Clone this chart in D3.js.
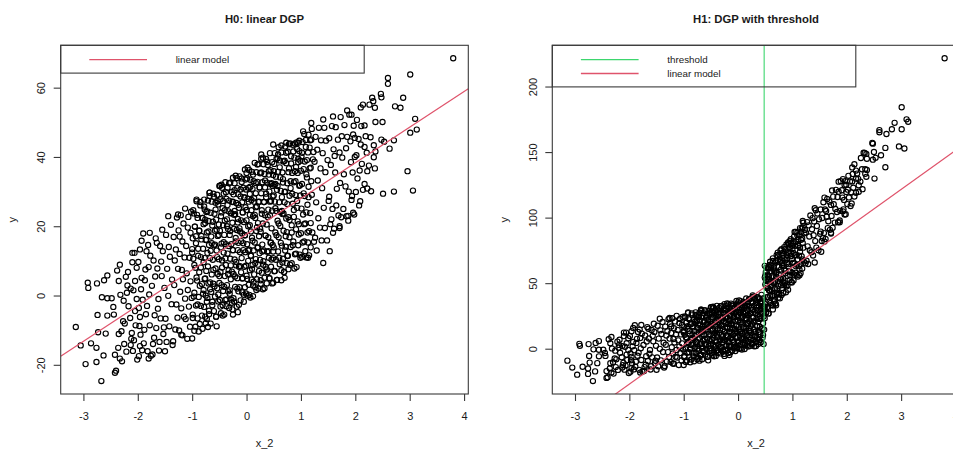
<!DOCTYPE html>
<html><head><meta charset="utf-8">
<script src="https://cdn.jsdelivr.net/npm/d3@7"></script>
<style>
html,body{margin:0;padding:0;background:#fff;}
svg{display:block;font-family:"Liberation Sans",Arial,Helvetica,sans-serif;}
</style></head><body>
<svg id="chart" width="953" height="450"></svg>
<script>
// ---------- data ----------
const titles = ["H0: linear DGP", "H1: DGP with threshold"];
const xLabel = "x_2";
const yLabel = "y";
const xTicks = [-3, -2, -1, 0, 1, 2, 3, 4];
const h0YTicks = [-20, 0, 20, 40, 60];
const h1YTicks = [0, 50, 100, 150, 200];
const h0Fit = [17.7, 10.3];   // intercept, slope of the red "linear model" line
const h1Fit = [32.4, 29.7];
const thresholdX = 0.48;
const h0LegendLabels = ["linear model"];
const h1LegendLabels = ["threshold", "linear model"];

// points with x_2 left of the threshold: identical in both panels
const belowThreshold = [
[-3.14,-9.1],[-3.05,-14.4],[-2.96,-19.8],[-2.92,3.7],[-2.91,2.2],[-2.86,-13.8],[-2.76,-15.1],[-2.75,3.5],[-2.74,-5.6],[-2.73,-10.6],[-2.76,-19.2],[-2.67,-24.7],[-2.63,-17.3],[-2.66,-0.5],[-2.62,4.4],[-2.56,5.8],[-2.59,-11],[-2.56,-5.8],[-2.56,-0.8],[-2.48,-0.8],[-2.45,-3.3],[-2.44,-5.5],[-2.42,-17.1],[-2.42,-22.3],[-2.4,-21.7],[-2.38,7.2],[-2.33,8.9],[-2.35,4.2],[-2.32,0.2],[-2.35,-11.1],[-2.3,-10.3],[-2.36,-15.1],[-2.33,-18.2],[-2.29,-19],[-2.27,-7.4],[-2.24,-8.1],[-2.22,5.4],[-2.17,-3.1],[-2.13,2],[-2.1,9.6],[-2.1,12.3],[-2.06,12.3],[-2.13,-14.3],[-2.11,-10.8],[-2.01,-18.5],[-1.98,-17.5],[-1.96,-14.6],[-1.95,-11.3],[-2.04,-8.6],[-1.93,15.8],[-1.9,17.9],[-1.96,13.3],[-2.02,8],[-1.93,5.1],[-1.91,-1.2],[-1.96,-6.2],[-1.98,-3.6],[-1.78,18.1],[-1.8,-18.2],[-1.5,-16.1],[-1.35,-13.2],[-1.2,-11.3],[-1,-12.4],[-0.71,-9.1],[-0.55,-8.9],[-0.25,-5.5],[-0.16,-4.8],[0.12,-0.2],
[-1.44,22.9],[-1.26,23.4],[-0.92,27.7],[-0.68,28.7],[-0.46,32],[-0.25,34],[0,35.4],[0.27,40.7],
[-2.26,-1.5],[-2.21,-16.2],[-2.19,2.9],[-2.14,-6.5],[-2.07,-12.9],[-2.05,4.2],[-1.99,9.7],[-1.97,-8.8],[-1.94,1.8],[-1.92,-15.8],[-1.88,-9.9],[-1.86,7.5],[-1.83,-3],[-1.81,14.6],[-1.73,-17],[-1.7,-12.2],[-1.68,5.5],[-1.65,15.2],[-1.63,-3.8],[-1.6,-13.4],[-1.57,9.8],[-1.55,19],[-1.52,-9.2],[-2.05,-4.5],[-2.08,1.5],[-2.12,-12.5],[-2.2,0.8],[-2.25,-14],[-2.02,-1],[-2.18,6.8],[-2.09,-16],
[-1.89,-13.8],[-1.87,4.4],[-1.85,-5.4],[-1.84,12.8],[-1.82,-16.1],[-1.8,8.2],[-1.79,0.3],[-1.78,-8.6],[-1.77,11.5],[-1.76,-17.4],
[-1.74,2.8],[-1.72,-14],[-1.71,10.1],[-1.69,-5.7],[-1.67,16.5],[-1.66,-9.4],[-1.64,7.8],[-1.62,-1],[-1.61,-15.9],[-1.59,14.3],[-1.58,-6.6],[-1.56,5.6],[-1.54,12.8],[-1.53,-11.1],[-1.51,2.2],
[-1.49,-6.7],[-1.48,17.5],[-1.47,-13.4],[-1.46,7.7],[-1.44,-0.1],[-1.43,14],[-1.42,-8.9],[-1.41,11.2],[-1.39,20.4],[-1.38,-2.5],[-1.37,4.6],[-1.36,-14.3],[-1.34,16.9],[-1.33,3],[-1.32,10.1],[-1.31,-9.8],[-1.3,13.3],[-1.29,-2.6],[-1.28,22.5],[-1.27,-6.4],[-1.26,7.7],[-1.25,18.8],
[-1.24,-10.1],[-1.23,12],[-1.23,17],[-1.22,1.1],[-1.21,23.2],[-1.2,-3.7],[-1.19,7.4],[-1.18,-11.5],[-1.18,15.6],[-1.17,4.7],[-1.16,20.8],[-1.15,-6.1],[-1.14,11],[-1.13,-0.9],[-1.13,25.1],[-1.12,-6.8],[-1.11,14.3],[-1.1,6.4],[-1.09,-12.5],[-1.08,19.6],[-1.08,1.6],[-1.07,22.7],[-1.06,-3.2],[-1.05,10.9],[-1.04,-9],[-1.03,18.1],[-1.03,4.1],[-1.02,24.2],[-1.01,-0.7],[-1,13.4],
[-0.99,16.5],[-0.99,-6.5],[-0.98,10.6],[-0.97,23.7],[-0.96,0.8],[-0.96,-10.2],[-0.95,19.9],[-0.94,8],[-0.93,-2.9],[-0.93,15.1],[-0.92,27.2],[-0.91,4.3],[-0.9,-6.6],[-0.9,22.4],[-0.89,13.5],[-0.88,-0.4],[-0.87,18.7],[-0.87,6.7],[-0.86,-8.2],[-0.85,26],[-0.84,11.1],[-0.84,-3],[-0.83,17.2],[-0.82,3.3],[-0.81,22.4],[-0.81,-9.6],[-0.8,13.5],[-0.79,20.6],[-0.79,1.6],[-0.78,27.7],[-0.78,-3.3],[-0.77,10.8],[-0.77,24.8],[-0.76,4.9],[-0.76,-6.1],[-0.75,16],[-0.75,0],[-0.76,21.9],
[-0.74,7.1],[-0.74,24.1],[-0.73,-6.8],[-0.73,18.2],[-0.72,12.3],[-0.72,-0.7],[-0.71,27.4],[-0.7,3.5],[-0.7,21.5],[-0.69,-4.4],[-0.69,14.6],[-0.68,29.7],[-0.67,1.8],[-0.67,10.8],[-0.66,23.9],[-0.66,-8.1],[-0.65,17],[-0.64,6.1],[-0.64,27.1],[-0.63,-1.8],[-0.63,20.2],[-0.62,10.3],[-0.61,29.4],[-0.61,3.4],[-0.6,-4.5],[-0.6,14.5],[-0.59,23.6],[-0.58,-0.3],[-0.58,18.7],[-0.57,7.8],[-0.57,26.8],[-0.56,-6.1],[-0.56,21.9],[-0.55,13],[-0.54,2.1],[-0.54,29.1],[-0.53,6.2],[-0.53,17.2],[-0.52,26.3],[-0.52,-1.7],[-0.51,20.5],[-0.51,10.5],[-0.5,31.6],[-0.5,3.6],
[-0.49,-1.3],[-0.49,18.7],[-0.48,27.8],[-0.48,6.8],[-0.47,-5.1],[-0.47,22.9],[-0.46,15],[-0.46,3],[-0.45,31.1],[-0.45,10.1],[-0.44,-2.8],[-0.44,25.2],[-0.43,20.3],[-0.43,1.3],[-0.42,29.4],[-0.42,12.4],[-0.41,-5.5],[-0.41,17.5],[-0.4,24.6],[-0.4,5.6],[-0.39,-1.3],[-0.39,32.7],[-0.38,14.8],[-0.38,8.8],[-0.37,27.9],[-0.37,-3.1],[-0.36,22],[-0.36,3],[-0.35,12.1],[-0.35,31.1],[-0.34,1.2],[-0.34,19.2],[-0.33,24.3],[-0.33,7.3],[-0.32,-3.6],[-0.32,27.4],[-0.31,17.5],[-0.31,0.5],[-0.3,32.6],[-0.3,10.6],[-0.29,23.7],[-0.29,4.7],[-0.28,-1.2],[-0.28,14.8],[-0.27,29.9],[-0.27,6.9],[-0.26,21],[-0.26,-4],[-0.25,27.1],[-0.25,13.1],
[-0.24,6.2],[-0.24,29.2],[-0.23,19.3],[-0.23,-1.7],[-0.22,32.4],[-0.22,10.4],[-0.22,24.4],[-0.21,2.5],[-0.21,23.5],[-0.2,15.6],[-0.2,34.6],[-0.19,8.7],[-0.19,26.7],[-0.18,-3.2],[-0.18,18.9],[-0.17,31],[-0.17,5],[-0.16,22.1],[-0.16,13.1],[-0.15,1.2],[-0.15,29.2],[-0.15,15.2],[-0.14,25.3],[-0.14,8.3],[-0.13,34.4],[-0.13,2.4],[-0.12,12.5],[-0.12,18.5],[-0.11,28.6],[-0.11,-1.4],[-0.1,21.7],[-0.1,6.7],[-0.09,32.8],[-0.09,10.8],[-0.08,0.9],[-0.08,26.9],[-0.08,17.9],[-0.07,24],[-0.07,5],[-0.06,31.1],[-0.06,15.1],[-0.05,-1.8],[-0.05,21.2],[-0.04,28.3],[-0.04,8.3],[-0.03,36.4],[-0.03,2.4],[-0.03,17.4],[-0.02,12.5],[-0.02,25.5],[-0.01,30.6],[-0.01,0.6],
[0,5.7],[0,24.7],[0.01,33.8],[0.01,14.8],[0.02,-0.1],[0.02,27.9],[0.03,20],[0.03,10],[0.04,31.1],[0.04,3.1],[0.05,13.2],[0.05,36.2],[0.06,23.3],[0.06,7.3],[0.06,29.3],[0.07,-0.6],[0.07,33.4],[0.08,18.5],[0.08,11.5],[0.09,27.6],[0.09,4.6],[0.1,35.7],[0.1,16.7],[0.11,8.8],[0.11,30.8],[0.12,22.9],[0.12,2.9],[0.13,13],[0.13,33],[0.14,27.1],[0.14,6.1],[0.15,38.3],[0.15,15.3],[0.16,2.4],[0.16,22.4],[0.17,29.5],[0.17,10.5],[0.17,25.5],[0.18,18.6],[0.18,35.6],[0.19,4.7],[0.19,25.7],[0.2,32.8],[0.2,13.8],[0.21,8.9],[0.21,20.9],[0.22,38],[0.22,2],[0.23,27.1],[0.23,17.1],[0.24,12.2],[0.24,31.2],
[0.25,35.3],[0.25,10.3],[0.26,18.4],[0.26,3.4],[0.27,29.5],[0.27,39.5],[0.28,6.6],[0.28,24.6],[0.29,32.7],[0.29,14.7],[0.3,1.8],[0.3,20.8],[0.31,37.9],[0.31,8.9],[0.32,27],[0.32,13],[0.33,5.1],[0.33,35.1],[0.34,23.2],[0.34,31.2],[0.35,17.3],[0.35,8.3],[0.36,39.4],[0.36,28.4],[0.37,3.5],[0.37,20.5],[0.38,32.6],[0.38,12.6],[0.39,37.7],[0.39,6.7],[0.4,24.8],[0.4,16.8],[0.41,34.9],[0.41,10.9],[0.42,5],[0.42,30],[0.43,23.1],[0.43,41.1],[0.44,15.2],[0.44,36.2],[0.45,8.3],[0.45,27.3],[0.46,32.4],[0.46,19.4],[0.47,3.5],[0.47,38.5],[0.48,28.6],[0.48,14.6],
[-1,12.4],[-0.99,-5.5],[-0.98,24.6],[-0.97,-0.3],[-0.96,8.8],[-0.95,19.9],[-0.94,-9],[-0.93,17.1],[-0.92,5.2],[-0.91,23.3],[-0.9,-2.6],[-0.89,11.5],[-0.88,-10.4],[-0.87,18.7],[-0.86,2.8],[-0.85,27],[-0.84,8.1],[-0.83,16.2],[-0.82,-5.8],[-0.81,22.4],[-0.8,0.5],[-0.79,9.6],[-0.78,25.7],[-0.77,4.8],[-0.76,20.9],[-0.75,-8],[-0.74,16.1],[-0.73,-1.8],[-0.72,24.3],[-0.71,8.4],[-0.7,18.5],[-0.69,-5.4],[-0.68,29.7],[-0.67,3.8],[-0.66,12.9],[-0.65,1],[-0.64,15.1],[-0.63,-2.8],[-0.62,21.3],[-0.61,7.4],[-0.6,28.5],[-0.59,2.6],[-0.58,14.7],[-0.57,24.8],[-0.56,-6.1],[-0.55,19],[-0.54,11.1],[-0.53,27.2],[-0.52,0.3],[-0.51,17.5],
[-0.5,5.6],[-0.49,31.7],[-0.48,-3.2],[-0.47,13.9],[-0.46,24],[-0.45,8.1],[-0.44,-5.8],[-0.43,27.3],[-0.42,15.4],[-0.41,2.5],[-0.4,21.6],[-0.39,10.7],[-0.38,29.8],[-0.37,-1.1],[-0.36,20],[-0.35,26.1],[-0.34,6.2],[-0.33,14.3],[-0.32,32.4],[-0.31,1.5],[-0.3,18.6],[-0.29,8.7],[-0.28,23.8],[-0.27,-2.1],[-0.26,27],[-0.25,13.1],[-0.24,-0.8],[-0.23,23.3],[-0.22,30.4],[-0.21,5.5],[-0.2,16.6],[-0.19,9.7],[-0.18,33.9],[-0.17,2],[-0.16,21.1],[-0.15,26.2],[-0.14,-2.7],[-0.13,19.4],[-0.12,8.5],[-0.11,30.6],[-0.1,15.7],[-0.09,33.8],[-0.08,4.9],[-0.07,24],[-0.06,13.1],[-0.05,0.2],[-0.04,28.3],[-0.03,17.4],[-0.02,33.5],[-0.01,8.6],
[0,21.7],[0.01,4.8],[0.02,36.9],[0.03,13],[0.04,27.1],[0.05,0.2],[0.06,20.3],[0.07,31.4],[0.08,11.5],[0.09,24.6],[0.1,7.7],[0.11,15.8],[0.12,34.9],[0.13,4],[0.14,28.1],[0.15,23.3],[0.16,9.4],[0.17,32.5],[0.18,1.6],[0.19,19.7],[0.2,37.8],[0.21,13.9],[0.22,27],[0.23,7.1],[0.24,31.2],[0.25,19.3],[0.26,4.4],[0.27,35.5],[0.28,23.6],[0.29,12.7],[0.3,39.8],[0.31,9.9],[0.32,27],[0.33,2.1],[0.34,33.2],[0.35,17.3],[0.36,29.4],[0.37,7.5],[0.38,38.6],[0.39,22.7],[0.4,12.8],[0.41,35.9],[0.42,5],[0.43,27.1],[0.44,32.2],[0.45,15.3],[0.46,10.4],[0.47,24.5],[0.48,31.6]
];

// points right of the threshold, H0 panel
const h0AboveThreshold = [
[0.49,3.7],[0.64,4.4],[0.7,5.1],[1.13,10.9],[1.41,9.4],[1.53,12.8],[1.59,18.1],[1.71,20],[1.84,22.9],[1.96,23.9],[0.49,43.6],[0.73,44.1],[0.95,44.1],[1.19,49.8],[1.41,50.8],[1.59,51.7],[1.93,52.2],[2.14,55.1],
[3.8,68.5],[3.01,63.8],[2.6,62.8],[2.6,61.1],[2.47,58.2],[2.48,57.2],[2.31,57.1],[2.33,56.1],[2.1,54.3],[2.26,55.1],[2.36,54.2],[2.88,57.1],[2.73,54.6],[2.83,54.2],[1.85,53.4],[3.1,51],[3.13,47.9],[3.01,47],[2.71,44.8],[2.63,42.4],[2.5,50.1],[2.37,50.1],[2.17,49.1],[2.11,48.9],[2.28,45.7],[2.48,45],[2.53,44.4],[2.34,43.4],[2.37,41.6],[2.17,42.9],[2.34,39.9],[2.1,43.6],[1.99,45.5],[1.96,46.5],[2.96,35.9],[3.06,30.3],[2.71,30],[2.51,29.4],[2.29,30.1],[2.22,30.9],[2.17,32.2],[2.08,36.1],[2.22,35.9],[2.36,36.7],[2.09,27.2],[1.93,27.6],[2.01,29.9],[1.98,23.4],[1.87,21.6],[1.71,19.5],[1.74,22.6],
[2.02,40.5],[2.04,33.8],[2.06,45.2],[2.12,38],[2.14,30.5],[2.19,46],[2.21,41.2],[2.25,37.5],[2.03,50.7],[2.07,26],
[1.52,28.5],[1.56,22],[1.62,40.3],[1.65,26],[1.72,32.5],[1.75,46],[1.79,35],[1.83,42.5],[1.88,30],[1.91,44.5],[1.95,35.5],[1.99,40],
[0.49,10.8],[0.49,34.8],
[0.5,13.9],[0.5,35.9],[0.51,7],[0.52,27.1],[0.52,41.1],[0.53,18.2],[0.53,32.2],[0.54,10.3],[0.55,24.4],[0.55,39.4],[0.56,4.5],[0.56,30.5],[0.57,21.6],[0.58,35.7],[0.58,12.7],[0.59,42.8],[0.59,16.8],[0.6,26.9],[0.61,39],[0.61,9],[0.62,34.1],[0.62,20.1],[0.63,30.2],[0.64,7.3],[0.64,41.3],[0.65,24.4],[0.65,14.4],[0.66,35.5],[0.67,10.6],[0.67,32.6],[0.68,38.7],[0.68,18.7],[0.69,6.8],[0.7,29.9],[0.7,26.9],[0.71,13],[0.71,43],[0.72,17.1],[0.73,38.2],[0.73,22.2],[0.74,9.3],[0.51,32],[0.57,39.6],[0.66,23.5],
[0.75,32.4],[0.75,11.4],[0.76,41.5],[0.77,22.6],[0.77,7.6],[0.78,36.7],[0.79,28.8],[0.79,16.8],[0.8,43.9],[0.81,14],[0.81,31],[0.82,40.2],[0.83,20.3],[0.83,9.3],[0.84,35.4],[0.85,26.5],[0.85,43.5],[0.86,15.6],[0.87,32.7],[0.87,22.7],[0.88,39.8],[0.89,11.9],[0.89,43.9],[0.9,29],[0.91,19.1],[0.91,37.1],[0.92,8.2],[0.93,42.3],[0.93,25.3],[0.94,35.4],[0.95,14.5],[0.95,39.5],[0.96,20.6],[0.97,31.7],[0.97,44.7],[0.98,11.8],[0.99,28.9],[0.99,38.9],
[1,18],[1.01,40.1],[1.02,32.2],[1.02,11.2],[1.03,44.3],[1.04,23.4],[1.05,36.5],[1.06,15.6],[1.06,46.6],[1.07,28.7],[1.08,20.8],[1.09,42.9],[1.1,11],[1.1,35],[1.11,39.1],[1.12,26.2],[1.13,15.3],[1.14,46.4],[1.14,31.4],[1.15,18.6],[1.16,42.7],[1.17,23.8],[1.18,36.9],[1.18,13.9],[1.19,45],[1.2,29.1],[1.21,18.2],[1.22,39.3],[1.23,41.4],[1.24,15.5],
[1.25,38.6],[1.26,16.7],[1.27,45.8],[1.28,26.9],[1.29,13],[1.3,42.1],[1.31,33.2],[1.32,22.3],[1.33,48.4],[1.35,19.6],[1.36,36.7],[1.37,44.8],[1.38,15.9],[1.39,31],[1.4,41.1],[1.42,25.3],[1.43,48.4],[1.44,19.5],[1.45,35.6],[1.46,44.7],[1.48,15.9],[1.49,39.1],
[1.51,27.3],[1.52,45.4],[1.54,20.6],[1.55,37.7],[1.57,48.9],[1.58,25],[1.6,42.2],[1.61,19.3],[1.63,35.5],[1.64,48.6],[1.66,30.8],[1.68,45],[1.69,23.1],[1.71,41.3],[1.73,51.5],
[1.76,39.8],[1.78,25],[1.8,49.2],[1.82,31.5],[1.85,45.8],[1.87,23],[1.89,52.2],[1.92,38.5],[1.94,28.7],[1.97,49],
[0.49,12.7],[0.5,28.9],[0.51,38],[0.52,7.1],[0.53,25.2],[0.54,34.3],[0.55,17.4],[0.56,4.5],[0.57,31.6],[0.58,40.7],[0.59,20.8],[0.6,10.9],[0.61,37],[0.62,24.1],[0.63,15.2],[0.64,43.3],[0.65,28.4],[0.66,9.5],[0.67,33.6],[0.68,23.7],[0.69,6.8],[0.7,38.9],[0.71,30],[0.72,14.1],[0.73,41.2],[0.74,18.3],[0.75,26.4],[0.76,11.5],[0.77,35.6],[0.78,43.7],[0.79,21.8],[0.8,8.9],[0.81,33],[0.82,38.1],[0.83,18.2],[0.84,29.4],[0.85,14.5],[0.86,41.6],[0.87,24.7],[0.88,7.8],[0.89,35.9],[0.9,33],[0.91,12.1],[0.92,44.2],[0.93,27.3],[0.94,21.4],[0.95,38.5],[0.96,17.6],[0.97,41.7],[0.98,31.8],[0.99,10.9],[1,36],[1.01,25.1],[1.02,41.2],[1.03,15.3],[1.04,47.4],[1.05,29.5],[1.06,20.6],[1.07,38.7],[1.08,12.8],[1.09,44.9],[1.1,24],[1.11,34.1],[1.12,18.2],[1.13,41.3],[1.14,28.4],[1.15,11.6],[1.16,36.7],[1.17,44.8],[1.18,20.9],[1.19,33],[1.2,48.1]
];

// points right of the threshold, H1 panel (shifted up past the threshold)
const h1AboveThreshold = [
[0.49,23.3],[0.64,30],[0.7,33.1],[1.13,56.1],[1.41,65.8],[1.53,74],[1.59,81.7],[1.71,88.4],[1.84,96.5],[1.96,102.3],[0.49,63.2],[0.73,73.3],[0.95,82.1],[1.19,97.4],[1.41,107.2],[1.59,115.3],[1.93,129.4],[2.14,140.7],
[3.8,221.6],[3.01,184.2],[2.6,166.8],[2.6,165.1],[2.47,157],[2.48,156.4],[2.31,149.5],[2.33,149.3],[2.1,138.3],[2.26,145.5],[2.36,148.6],[2.88,172.3],[2.73,163.8],[2.83,167.4],[1.85,127.4],[3.1,175],[3.13,173.1],[3.01,167.4],[2.71,153.2],[2.63,147.6],[2.5,150.1],[2.37,144.9],[2.17,135.9],[2.11,133.3],[2.28,136.9],[2.48,144.2],[2.53,145.6],[2.34,137],[2.37,136.4],[2.17,129.7],[2.34,133.5],[2.1,127.6],[1.99,125.1],[1.96,124.9],[2.96,154.3],[3.06,152.7],[2.71,138.4],[2.51,129.8],[2.29,121.7],[2.22,119.7],[2.17,119],[2.08,119.3],[2.22,124.7],[2.36,131.1],[2.09,110.8],[1.93,104.8],[2.01,110.3],[1.98,102.6],[1.87,96.4],[1.71,87.9],[1.74,92.2],
[2.02,121.3],[2.04,115.4],[2.06,127.6],[2.12,122.8],[2.14,116.1],[2.19,133.6],[2.21,129.6],[2.25,127.5],[2.03,131.9],[2.07,108.8],
[1.52,89.3],[1.56,84.4],[1.62,105.1],[1.65,92],[1.72,101.3],[1.75,116],[1.79,106.6],[1.83,115.7],[1.88,105.2],[1.91,120.9],[1.95,113.5],[1.99,119.6],
[0.49,30.4],[0.49,54.4],
[0.5,33.9],[0.5,55.9],[0.51,27.4],[0.52,47.9],[0.52,61.9],[0.53,39.4],[0.53,53.4],[0.54,31.9],[0.55,46.4],[0.55,61.4],[0.56,26.9],[0.56,52.9],[0.57,44.4],[0.58,58.9],[0.58,35.9],[0.59,66.4],[0.59,40.4],[0.6,50.9],[0.61,63.4],[0.61,33.4],[0.62,58.9],[0.62,44.9],[0.63,55.4],[0.64,32.9],[0.64,66.9],[0.65,50.4],[0.65,40.4],[0.66,61.9],[0.67,37.4],[0.67,59.4],[0.68,65.9],[0.68,45.9],[0.69,34.4],[0.7,57.9],[0.7,54.9],[0.71,41.4],[0.71,71.4],[0.72,45.9],[0.73,67.4],[0.73,51.4],[0.74,38.9],[0.51,52.4],[0.57,62.4],[0.66,49.9],
[0.75,62.4],[0.75,41.4],[0.76,71.9],[0.77,53.4],[0.77,38.4],[0.78,67.9],[0.79,60.4],[0.79,48.4],[0.8,75.9],[0.81,46.4],[0.81,63.4],[0.82,73],[0.83,53.5],[0.83,42.5],[0.84,69],[0.85,60.5],[0.85,77.5],[0.86,50],[0.87,67.5],[0.87,57.5],[0.88,75],[0.89,47.5],[0.89,79.5],[0.9,65],[0.91,55.5],[0.91,73.5],[0.92,45],[0.93,79.5],[0.93,62.5],[0.94,73],[0.95,52.5],[0.95,77.5],[0.96,59],[0.97,70.5],[0.97,83.5],[0.98,51],[0.99,68.5],[0.99,78.5],
[1,58],[1.01,80.5],[1.02,73],[1.02,52],[1.03,85.5],[1.04,65],[1.05,78.5],[1.06,58],[1.06,89],[1.07,71.5],[1.08,64],[1.09,86.5],[1.1,55],[1.1,79],[1.11,83.5],[1.12,71],[1.13,60.5],[1.14,92],[1.14,77],[1.15,64.6],[1.16,89.1],[1.17,70.6],[1.18,84.1],[1.18,61.1],[1.19,92.6],[1.2,77.1],[1.21,66.6],[1.22,88.1],[1.23,90.6],[1.24,65.1],
[1.25,88.6],[1.26,67.1],[1.27,96.6],[1.28,78.1],[1.29,64.6],[1.3,94.1],[1.31,85.6],[1.32,75.1],[1.33,101.6],[1.35,73.6],[1.36,91.1],[1.37,99.6],[1.38,71.1],[1.39,86.6],[1.4,97.1],[1.42,82.1],[1.43,105.6],[1.44,77.1],[1.45,93.6],[1.46,103.1],[1.48,75.1],[1.49,98.7],
[1.51,87.7],[1.52,106.2],[1.54,82.2],[1.55,99.7],[1.57,111.7],[1.58,88.2],[1.6,106.2],[1.61,83.7],[1.63,100.7],[1.64,114.2],[1.66,97.2],[1.68,112.2],[1.69,90.7],[1.71,109.7],[1.73,120.7],
[1.76,110.2],[1.78,96.2],[1.8,121.2],[1.82,104.3],[1.85,119.8],[1.87,97.8],[1.89,127.8],[1.92,115.3],[1.94,106.3],[1.97,127.8],
[0.49,32.3],[0.5,48.9],[0.51,58.4],[0.52,27.9],[0.53,46.4],[0.54,55.9],[0.55,39.4],[0.56,26.9],[0.57,54.4],[0.58,63.9],[0.59,44.4],[0.6,34.9],[0.61,61.4],[0.62,48.9],[0.63,40.4],[0.64,68.9],[0.65,54.4],[0.66,35.9],[0.67,60.4],[0.68,50.9],[0.69,34.4],[0.7,66.9],[0.71,58.4],[0.72,42.9],[0.73,70.4],[0.74,47.9],[0.75,56.4],[0.76,41.9],[0.77,66.4],[0.78,74.9],[0.79,53.4],[0.8,40.9],[0.81,65.4],[0.82,70.9],[0.83,51.4],[0.84,63],[0.85,48.5],[0.86,76],[0.87,59.5],[0.88,43],[0.89,71.5],[0.9,69],[0.91,48.5],[0.92,81],[0.93,64.5],[0.94,59],[0.95,76.5],[0.96,56],[0.97,80.5],[0.98,71],[0.99,50.5],[1,76],[1.01,65.5],[1.02,82],[1.03,56.5],[1.04,89],[1.05,71.5],[1.06,63],[1.07,81.5],[1.08,56],[1.09,88.5],[1.1,68],[1.11,78.5],[1.12,63],[1.13,86.5],[1.14,74],[1.15,57.6],[1.16,83.1],[1.17,91.6],[1.18,68.1],[1.19,80.6],[1.2,96.1]
];

const h0Points = belowThreshold.concat(h0AboveThreshold);
const h1Points = belowThreshold.concat(h1AboveThreshold);

// ---------- drawing ----------
const RED = "#DF536B", GREEN = "#3DD66E", INK = "#1a1a1a", BOXC = "#3a3a3a";
const plotTop = 45.3, plotBottom = 394;
const svg = d3.select("#chart");

function pad4(ext) { const r = ext[1] - ext[0]; return [ext[0] - 0.04 * r, ext[1] + 0.04 * r]; }

function drawPanel(cfg, idx) {
  const {left, right, points, yTicks, fit, title, legend, threshold} = cfg;
  const x = d3.scaleLinear().domain(pad4(d3.extent(points, d => d[0]))).range([left, right]);
  const y = d3.scaleLinear().domain(pad4(d3.extent(points, d => d[1]))).range([plotBottom, plotTop]);
  const g = svg.append("g");

  const clipId = "clip" + idx;
  g.append("clipPath").attr("id", clipId).append("rect")
    .attr("x", left).attr("y", plotTop).attr("width", right - left).attr("height", plotBottom - plotTop);

  const plot = g.append("g").attr("clip-path", `url(#${clipId})`);
  plot.selectAll("circle").data(points).join("circle")
    .attr("cx", d => x(d[0])).attr("cy", d => y(d[1])).attr("r", 2.6)
    .attr("fill", "none").attr("stroke", "#000").attr("stroke-width", 1.15);

  const [xa, xb] = x.domain();
  if (threshold !== undefined) {
    plot.append("line").attr("x1", x(threshold)).attr("x2", x(threshold))
      .attr("y1", plotTop).attr("y2", plotBottom).attr("stroke", GREEN).attr("stroke-width", 1.1);
  }
  plot.append("line")
    .attr("x1", x(xa)).attr("y1", y(fit[0] + fit[1] * xa))
    .attr("x2", x(xb)).attr("y2", y(fit[0] + fit[1] * xb))
    .attr("stroke", RED).attr("stroke-width", 1.2);

  // box
  g.append("rect").attr("x", left).attr("y", plotTop).attr("width", right - left).attr("height", plotBottom - plotTop)
    .attr("fill", "none").attr("stroke", BOXC).attr("stroke-width", 1.1);

  // x axis
  const gx = g.append("g").attr("transform", `translate(0,${plotBottom})`)
    .call(d3.axisBottom(x).tickValues(xTicks).tickSize(7).tickPadding(11).tickFormat(d => String(d)));
  gx.select(".domain").remove();
  gx.attr("font-family", null).attr("font-size", 11);
  gx.selectAll(".tick line").attr("stroke", BOXC).attr("stroke-width", 1.1);
  gx.selectAll(".tick text").attr("fill", INK);

  // y axis
  const gy = g.append("g").attr("transform", `translate(${left},0)`)
    .call(d3.axisLeft(y).tickValues(yTicks).tickSize(7).tickFormat(d => String(d)));
  gy.select(".domain").remove();
  gy.attr("font-family", null).attr("font-size", 11);
  gy.selectAll(".tick line").attr("stroke", BOXC).attr("stroke-width", 1.1);
  gy.selectAll(".tick text").attr("fill", INK)
    .attr("transform", "rotate(-90)").attr("x", 0).attr("y", -15.6).attr("dy", 0)
    .attr("text-anchor", "middle");

  // titles and labels
  const cx = (left + right) / 2;
  g.append("text").attr("x", cx).attr("y", 22.5).attr("text-anchor", "middle")
    .attr("font-weight", "bold").attr("font-size", 11.3).attr("fill", INK).text(title);
  g.append("text").attr("x", cx).attr("y", 446.5).attr("text-anchor", "middle")
    .attr("font-size", 11).attr("fill", INK).text(xLabel);
  g.append("text").attr("transform", `translate(${left - 44.4},${(plotTop + plotBottom) / 2}) rotate(-90)`)
    .attr("text-anchor", "middle").attr("font-size", 11).attr("fill", INK).text(yLabel);

  // legend
  const lgW = 303.5, rowH = 13.8;
  const lgH = 14 + rowH * legend.length;
  const lg = g.append("g");
  lg.append("rect").attr("x", left).attr("y", plotTop).attr("width", lgW).attr("height", lgH)
    .attr("fill", "none").attr("stroke", BOXC).attr("stroke-width", 1.1);
  legend.forEach((item, i) => {
    const yy = plotTop + 14.4 + i * rowH;
    lg.append("line").attr("x1", left + 28.6).attr("x2", left + 86.3).attr("y1", yy).attr("y2", yy)
      .attr("stroke", item.color).attr("stroke-width", 1.3);
    lg.append("text").attr("x", left + 115).attr("y", yy + 3.5).attr("font-size", 9.8)
      .attr("fill", INK).text(item.label);
  });
}

drawPanel({left: 60.7, right: 468.3, points: h0Points, yTicks: h0YTicks, fit: h0Fit, title: titles[0],
  legend: h0LegendLabels.map(l => ({label: l, color: RED}))}, 0);
drawPanel({left: 552.3, right: 959.7, points: h1Points, yTicks: h1YTicks, fit: h1Fit, title: titles[1],
  threshold: thresholdX,
  legend: h1LegendLabels.map((l, i) => ({label: l, color: i === 0 ? GREEN : RED}))}, 1);
</script>
</body></html>
